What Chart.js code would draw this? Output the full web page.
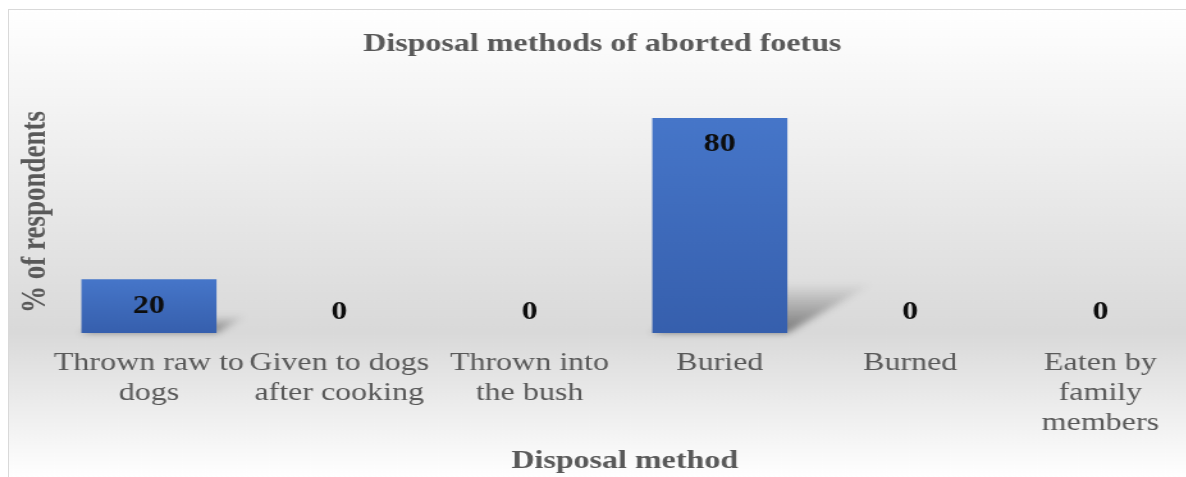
<!DOCTYPE html>
<html>
<head>
<meta charset="utf-8">
<script src="https://cdn.jsdelivr.net/npm/chart.js@4/dist/chart.umd.min.js"></script>
<style>
  html, body { margin: 0; padding: 0; background: #ffffff; overflow: hidden; width: 1186px; height: 477px; }
  #frame {
    position: absolute;
    left: 8px;
    top: 9px;
    width: 1200px;
    height: 470px;
    border-left: 1px solid #d9d9d9;
    border-top: 1px solid #d9d9d9;
  }
  /* the reference picture is stretched sideways, so the chart is too */
  #wrap {
    position: absolute;
    left: 0;
    top: 0;
    width: 930px;
    height: 467px;
    transform: scaleX(1.28);
    transform-origin: 0 0;
  }
</style>
</head>
<body>
<div id="frame"><div id="wrap"><canvas id="chart"></canvas></div></div>
<script>
const categories = [
  ["Thrown raw to", "dogs"],
  ["Given to dogs", "after cooking"],
  ["Thrown into", "the bush"],
  ["Buried"],
  ["Burned"],
  ["Eaten by", "family", "members"]
];
const respondents = [20, 0, 0, 80, 0, 0];

const chartTitle = "Disposal methods of aborted foetus";
const xTitle = "Disposal method";
const yTitle = "% of respondents";

const serif = "'Liberation Serif', 'Times New Roman', serif";
const textGrey = "#595959";

const backgroundPlugin = {
  id: "background",
  beforeDraw(chart) {
    const { ctx, width, height } = chart;
    const g = ctx.createLinearGradient(0, 0, 0, height);
    g.addColorStop(0, "#ffffff");
    g.addColorStop(0.69, "#d9d9d9");
    g.addColorStop(1, "#ffffff");
    ctx.save();
    ctx.fillStyle = g;
    ctx.fillRect(0, 0, width, height);
    ctx.restore();
  }
};

const shadowPlugin = {
  id: "barShadow",
  beforeDatasetsDraw(chart) {
    const { ctx } = chart;
    const meta = chart.getDatasetMeta(0);
    meta.data.forEach(bar => {
      const h = bar.base - bar.y;
      if (!isFinite(h) || h <= 0) return;
      const left = bar.x - bar.width / 2;
      const right = bar.x + bar.width / 2;
      const dx = h * 0.27 + 9;
      const sh = h * 0.2 + 7;
      const g = ctx.createLinearGradient(0, bar.base, 0, bar.base - sh);
      g.addColorStop(0, "rgba(40,40,40,0.55)");
      g.addColorStop(1, "rgba(40,40,40,0)");
      ctx.save();
      ctx.filter = "blur(3px)";
      ctx.fillStyle = g;
      ctx.beginPath();
      ctx.moveTo(left, bar.base);
      ctx.lineTo(right, bar.base);
      ctx.lineTo(right + dx, bar.base - sh);
      ctx.lineTo(left + dx, bar.base - sh);
      ctx.closePath();
      ctx.fill();
      ctx.restore();
    });
  }
};

const labelPlugin = {
  id: "barLabels",
  afterDatasetsDraw(chart) {
    const { ctx } = chart;
    const meta = chart.getDatasetMeta(0);
    ctx.save();
    ctx.font = "bold 25px " + serif;
    ctx.fillStyle = "#0d0d0d";
    ctx.textAlign = "center";
    ctx.textBaseline = "middle";
    meta.data.forEach((bar, i) => {
      const v = respondents[i];
      const y = v > 0 ? bar.y + 27 : bar.base - 20;
      ctx.fillText(String(v), bar.x, y);
    });
    ctx.restore();
  }
};

function barFill(context) {
  const chart = context.chart;
  const yScale = chart.scales.y;
  if (!yScale || context.dataIndex === undefined) return "#4472c4";
  const v = respondents[context.dataIndex];
  const top = yScale.getPixelForValue(v);
  const bottom = yScale.getPixelForValue(0);
  if (!isFinite(top) || !isFinite(bottom) || bottom - top < 1) return "#4472c4";
  const g = chart.ctx.createLinearGradient(0, top, 0, bottom);
  g.addColorStop(0, "#4676c9");
  g.addColorStop(1, "#365fad");
  return g;
}

new Chart(document.getElementById("chart"), {
  type: "bar",
  data: {
    labels: categories,
    datasets: [{
      label: yTitle,
      data: respondents,
      backgroundColor: barFill,
      borderWidth: 0,
      categoryPercentage: 1,
      barPercentage: 0.71
    }]
  },
  plugins: [backgroundPlugin, shadowPlugin, labelPlugin],
  options: {
    responsive: true,
    maintainAspectRatio: false,
    animation: false,
    layout: { padding: { left: 0, right: 3, top: 0, bottom: 0 } },
    plugins: {
      legend: { display: false },
      tooltip: { enabled: false },
      title: {
        display: true,
        text: chartTitle,
        color: textGrey,
        font: { family: serif, size: 25, weight: "bold", lineHeight: 1.2 },
        padding: { top: 20, bottom: 31 }
      }
    },
    scales: {
      x: {
        afterFit(scale) {
          scale.height = 144;
        },
        grid: { display: false, drawTicks: false },
        border: { display: false },
        ticks: {
          color: textGrey,
          font: { family: serif, size: 25, lineHeight: 1.2 },
          padding: 15,
          maxRotation: 0,
          minRotation: 0,
          autoSkip: false
        },
        title: {
          display: true,
          text: xTitle,
          color: textGrey,
          font: { family: serif, size: 25, weight: "bold", lineHeight: 1 },
          padding: { top: 0, bottom: 3 }
        }
      },
      y: {
        min: 0,
        max: 90,
        grid: { display: false, drawTicks: false },
        border: { display: false },
        ticks: { display: false },
        title: {
          display: true,
          text: yTitle,
          color: textGrey,
          font: { family: serif, size: 27, weight: "bold", lineHeight: 1 },
          padding: { top: 8, bottom: 0 }
        }
      }
    }
  }
});
</script>
</body>
</html>
